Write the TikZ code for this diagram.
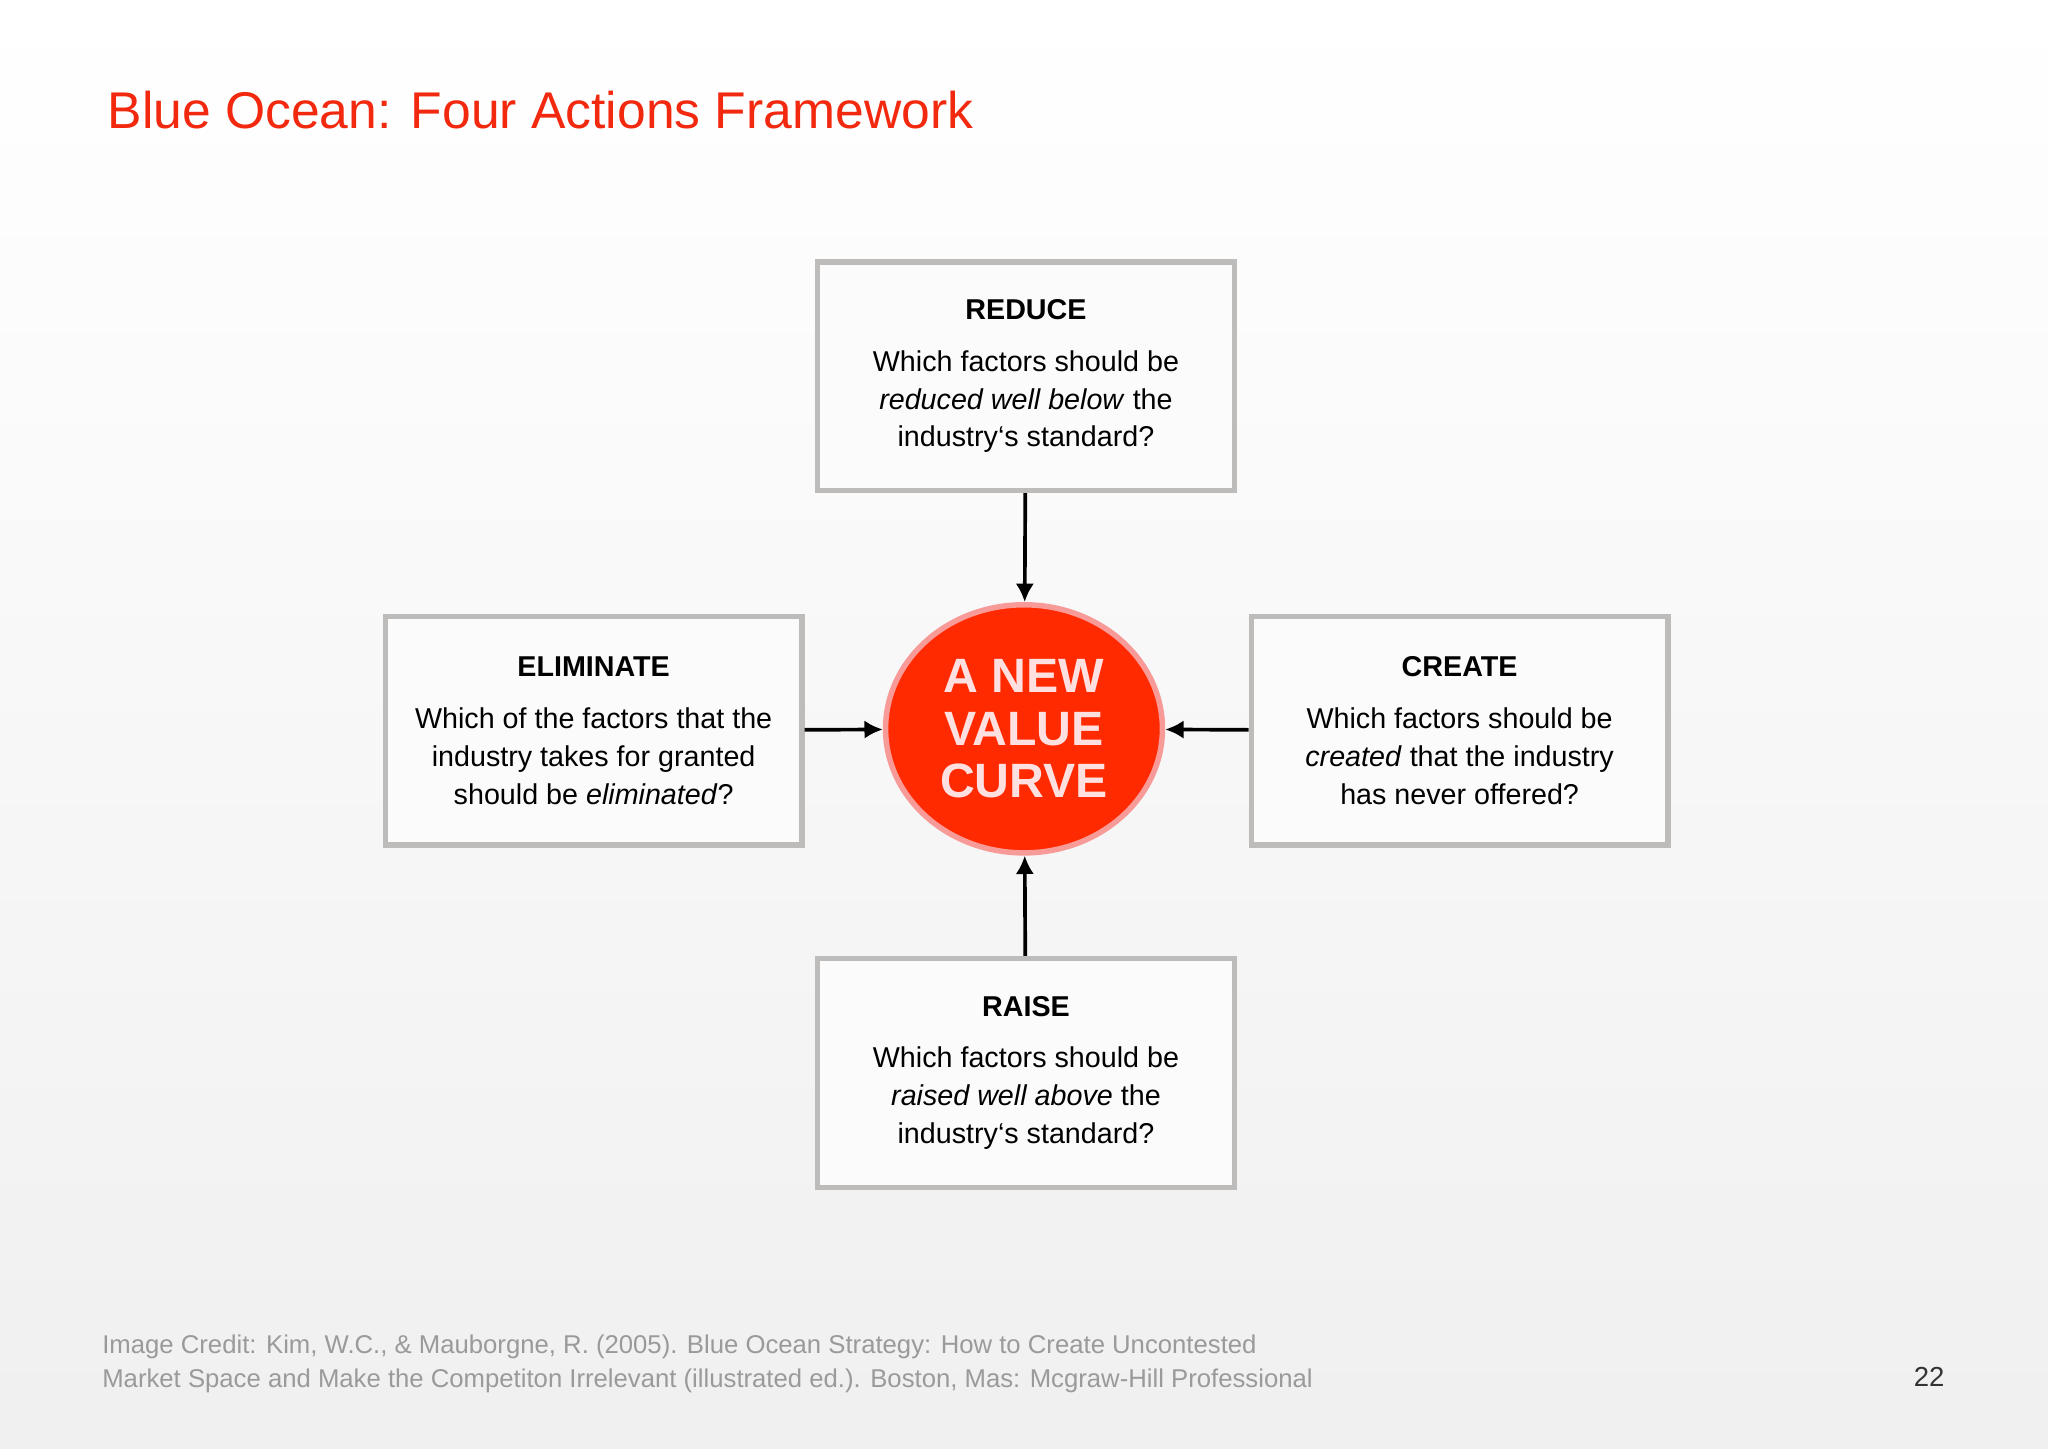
\documentclass[tikz,border=0pt]{standalone}
\usepackage{fontspec}
\setmainfont{Liberation Sans}
\usetikzlibrary{arrows.meta,shapes.geometric}
\definecolor{titlered}{HTML}{F2290F}
\definecolor{circred}{HTML}{FF2A00}
\definecolor{circedge}{HTML}{F79A98}
\definecolor{boxgray}{HTML}{BDBCBA}
\definecolor{credit}{HTML}{9A9A9A}
\tikzset{
  actbox/.style={draw=boxgray,line width=2.4pt,fill=white!97!gray,minimum width=6.38cm,minimum height=3.5cm,align=center,font=\fontsize{12.5}{16.5}\selectfont,inner sep=0pt},
  arr/.style={-{Latex[length=8pt,width=8pt]},line width=1.6pt,black}
}
\begin{document}
\begin{tikzpicture}[x=0.02cm,y=-0.02cm]
\shade[top color=white,bottom color=black!6] (0,0) rectangle (1568,1109);
\useasboundingbox (0,0) rectangle (1568,1109);
\node[anchor=west,text=titlered,font=\fontsize{22.5}{26}\selectfont,inner sep=0] (title) at (82,84) {Blue Ocean: Four Actions Framework};
\node[actbox] (reduce) at (785.5,288) {\textbf{REDUCE}\\[6pt]Which factors should be\\\textit{reduced well below} the\\industry‘s standard?};
\node[actbox] (elim) at (454.5,559.5) {\textbf{ELIMINATE}\\[6pt]Which of the factors that the\\industry takes for granted\\should be \textit{eliminated}?};
\node[actbox] (create) at (1117.5,559.5) {\textbf{CREATE}\\[6pt]Which factors should be\\\textit{created} that the industry\\has never offered?};
\node[actbox] (raise) at (785.5,821.5) {\textbf{RAISE}\\[6pt]Which factors should be\\\textit{raised well above} the\\industry‘s standard?};
\node[ellipse,fill=circred,draw=circedge,line width=2.4pt,minimum width=4.24cm,minimum height=3.8cm,align=center,text=white!88!red,font=\bfseries\fontsize{21}{23}\selectfont,inner sep=0pt] (core) at (784,558) {A NEW\\VALUE\\CURVE};
\draw[arr] (reduce) -- (core);
\draw[arr] (raise) -- (core);
\draw[arr] (elim) -- (core);
\draw[arr] (create) -- (core);
\node[anchor=north west,align=left,text=credit,font=\fontsize{11.2}{14.4}\selectfont,inner sep=0] (cred) at (78,1022) {Image Credit: Kim, W.C., \& Mauborgne, R. (2005). Blue Ocean Strategy: How to Create Uncontested\\Market Space and Make the Competiton Irrelevant (illustrated ed.). Boston, Mas: Mcgraw-Hill Professional};
\node[font=\fontsize{12}{14}\selectfont,text=black!80] (pg) at (1477,1054) {22};
\end{tikzpicture}
\end{document}
